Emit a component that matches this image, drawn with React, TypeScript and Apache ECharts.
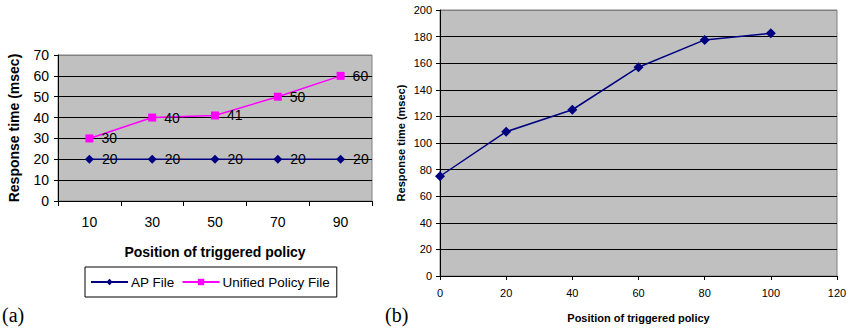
import React, { useEffect, useRef } from "react";
import * as echarts from "echarts";

const catA = ["10", "30", "50", "70", "90"];
const apFile = [20, 20, 20, 20, 20];
const unifiedFile = [30, 40, 41, 50, 60];

const xB = [0, 20, 40, 60, 80, 100];
const yB = [75, 108.5, 125, 157, 177.5, 182.5];

const FONT = "'Liberation Sans', Arial, sans-serif";

export default function App() {
  const ref = useRef<HTMLDivElement>(null);
  useEffect(() => {
    if (!ref.current) return;
    const chart = echarts.init(ref.current, undefined, { renderer: "svg" });
    const gridLinesA = ["#000", "#000", "#000", "#000", "#000", "#000", "#000", "#808080"];
    const gridLinesB = ["#000", "#000", "#000", "#000", "#000", "#000", "#000", "#000", "#000", "#000", "#808080"];
    chart.setOption({
      animation: false,
      textStyle: { fontFamily: FONT, color: "#000" },
      grid: [
        { left: 58, top: 55, width: 314, height: 146, show: true, backgroundColor: "#C0C0C0", borderColor: "#808080", borderWidth: 1 },
        { left: 440, top: 10, width: 397, height: 266, show: true, backgroundColor: "#C0C0C0", borderColor: "#808080", borderWidth: 1 },
      ],
      legend: {
        left: 85,
        top: 267,
        data: ["AP File", "Unified Policy File"],
        borderColor: "#000",
        borderWidth: 1,
        backgroundColor: "#fff",
        padding: [8, 7, 8, 5],
        itemWidth: 37,
        itemHeight: 8,
        itemGap: 7,
        textStyle: { fontFamily: FONT, fontSize: 13.5, color: "#000", padding: [0, 0, 0, -2] },
      },
      xAxis: [
        {
          type: "category",
          gridIndex: 0,
          data: catA,
          boundaryGap: true,
          name: "Position of triggered policy",
          nameLocation: "middle",
          nameGap: 44,
          nameTextStyle: { fontFamily: FONT, fontSize: 14, fontWeight: "bold", color: "#000" },
          axisLine: { lineStyle: { color: "#000" } },
          axisTick: { show: true, alignWithLabel: false, length: 5, lineStyle: { color: "#000" } },
          axisLabel: { fontFamily: FONT, fontSize: 14, color: "#000", margin: 14 },
          splitLine: { show: false },
        },
        {
          type: "value",
          gridIndex: 1,
          min: 0,
          max: 120,
          interval: 20,
          name: "Position of triggered policy",
          nameLocation: "middle",
          nameGap: 36,
          nameTextStyle: { fontFamily: FONT, fontSize: 11, fontWeight: "bold", color: "#000" },
          axisLine: { lineStyle: { color: "#000" } },
          axisTick: { show: true, length: 4, lineStyle: { color: "#000" } },
          axisLabel: { fontFamily: FONT, fontSize: 11, color: "#000", margin: 11 },
          splitLine: { show: false },
        },
      ],
      yAxis: [
        {
          type: "value",
          gridIndex: 0,
          min: 0,
          max: 70,
          interval: 10,
          name: "Response time (msec)",
          nameLocation: "middle",
          nameGap: 37,
          nameTextStyle: { fontFamily: FONT, fontSize: 14, fontWeight: "bold", color: "#000" },
          axisLine: { show: true, lineStyle: { color: "#000" } },
          axisTick: { show: true, length: 4, lineStyle: { color: "#000" } },
          axisLabel: { fontFamily: FONT, fontSize: 14, color: "#000", margin: 9 },
          splitLine: { show: true, lineStyle: { color: gridLinesA, width: 1 } },
        },
        {
          type: "value",
          gridIndex: 1,
          min: 0,
          max: 200,
          interval: 20,
          name: "Response time (msec)",
          nameLocation: "middle",
          nameGap: 34,
          nameTextStyle: { fontFamily: FONT, fontSize: 11, fontWeight: "bold", color: "#000" },
          axisLine: { show: true, lineStyle: { color: "#000" } },
          axisTick: { show: true, length: 4, lineStyle: { color: "#000" } },
          axisLabel: { fontFamily: FONT, fontSize: 11, color: "#000", margin: 8 },
          splitLine: { show: true, lineStyle: { color: gridLinesB, width: 1 } },
        },
      ],
      series: [
        {
          name: "AP File",
          type: "line",
          xAxisIndex: 0,
          yAxisIndex: 0,
          data: apFile,
          symbol: "diamond",
          symbolSize: 9,
          color: "#000080",
          lineStyle: { color: "#000080", width: 1.5 },
          itemStyle: { color: "#000080" },
          label: { show: true, position: "right", distance: 8, fontFamily: FONT, fontSize: 14, color: "#000" },
        },
        {
          name: "Unified Policy File",
          type: "line",
          xAxisIndex: 0,
          yAxisIndex: 0,
          data: unifiedFile,
          symbol: "rect",
          symbolSize: 8,
          color: "#FF00FF",
          lineStyle: { color: "#FF00FF", width: 1.5 },
          itemStyle: { color: "#FF00FF" },
          label: { show: true, position: "right", distance: 8, fontFamily: FONT, fontSize: 14, color: "#000" },
        },
        {
          name: "B",
          type: "line",
          xAxisIndex: 1,
          yAxisIndex: 1,
          data: xB.map((x, i) => [x, yB[i]]),
          symbol: "diamond",
          symbolSize: 10,
          color: "#000080",
          lineStyle: { color: "#000080", width: 1.5 },
          itemStyle: { color: "#000080" },
        },
      ],
      graphic: [
        { type: "text", left: 2, top: 305, style: { text: "(a)", font: "20px 'Liberation Serif', serif", fill: "#000" } },
        { type: "text", left: 385, top: 305, style: { text: "(b)", font: "20px 'Liberation Serif', serif", fill: "#000" } },
      ],
    });
    return () => chart.dispose();
  }, []);
  return <div ref={ref} style={{ position: "fixed", left: 0, top: 0, width: 850, height: 335, background: "#fff" }} />;
}
